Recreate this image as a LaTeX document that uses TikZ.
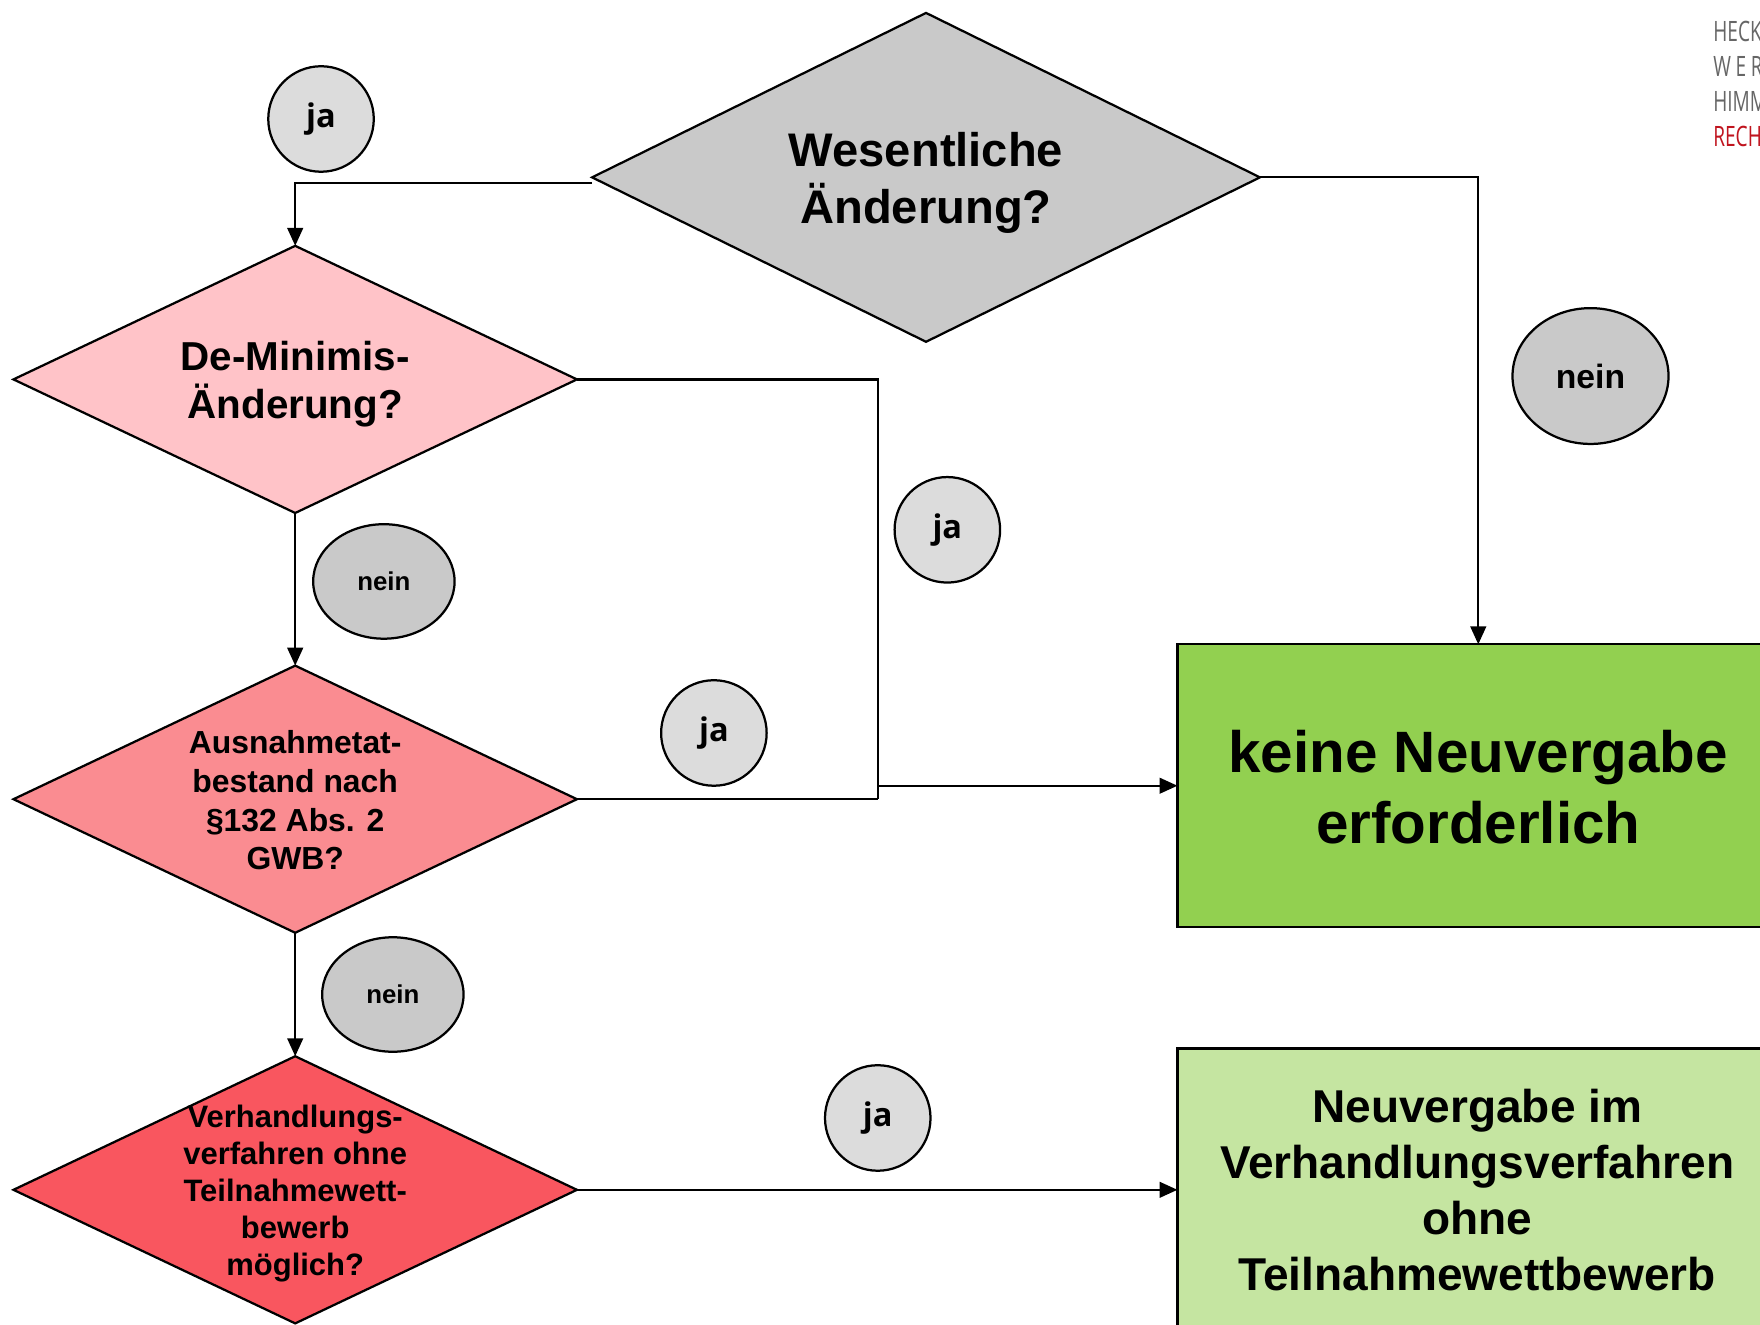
\documentclass[tikz,border=0pt]{standalone}
\usepackage{fontspec}
\setmainfont{Liberation Sans}
\newfontfamily\jafont{Open Sans}
\newfontfamily\logofont[FakeStretch=0.68]{Open Sans}
\usetikzlibrary{shapes.geometric,arrows.meta}
\definecolor{dgray}{HTML}{C9C9C9}
\definecolor{lgray}{HTML}{DCDCDC}
\definecolor{pinkA}{HTML}{FFC3C8}
\definecolor{pinkB}{HTML}{FA8C91}
\definecolor{pinkC}{HTML}{F9565F}
\definecolor{greenA}{HTML}{92D050}
\definecolor{greenB}{HTML}{C5E5A1}
\definecolor{logogray}{HTML}{666666}
\definecolor{logored}{HTML}{C0141E}
\tikzset{
  dia/.style={diamond, draw=black, line width=1pt, inner sep=0pt, outer sep=0pt,
    minimum width=502*0.5pt, minimum height=238*0.5pt, aspect=2.1},
  box/.style={rectangle, draw=black, line width=1pt, inner sep=0pt, outer sep=0pt,
    minimum width=536*0.5pt, minimum height=252*0.5pt},
  jacirc/.style={ellipse, draw=black, line width=1pt, fill=lgray, inner sep=0pt,
    minimum width=94*0.5pt, minimum height=94*0.5pt, font=\jafont\bfseries\fontsize{14.5}{16}\selectfont},
  neincirc/.style={ellipse, draw=black, line width=1pt, fill=dgray, inner sep=0pt,
    font=\bfseries\fontsize{11.5}{13}\selectfont},
  txt/.style={align=center, inner sep=0pt, font=\bfseries},
  arr/.style={line width=1pt, -{Triangle[length=8pt,width=7pt]}},
  ln/.style={line width=1pt},
  logo/.style={anchor=west, inner sep=0pt, font=\logofont\fontsize{12.5}{14}\selectfont}
}
\begin{document}
\begin{tikzpicture}[x=0.5pt,y=-0.5pt]
\useasboundingbox (0,0) rectangle (1568,1180);
\clip (0,0) rectangle (1568,1180);
\fill[white] (0,0) rectangle (1568,1180);

% decision diamonds
\node[dia, fill=dgray, minimum width=595*0.5pt, minimum height=293*0.5pt] (wes) at (825,158) {};
\node[txt, font=\bfseries\fontsize{21}{25}\selectfont] at (825,163) {Wesentliche\\Änderung?};

\node[dia, fill=pinkA] (dem) at (263,338) {};
\node[txt, font=\bfseries\fontsize{18}{21.5}\selectfont] at (263,342) {De-Minimis-\\Änderung?};

\node[dia, fill=pinkB] (aus) at (263,712) {};
\node[txt, font=\bfseries\fontsize{14.2}{17.2}\selectfont] at (263,713) {Ausnahmetat-\\bestand nach\\§132 Abs. 2\\GWB?};

\node[dia, fill=pinkC] (ver) at (263,1060) {};
\node[txt, font=\bfseries\fontsize{13.8}{16.5}\selectfont] at (263,1063) {Verhandlungs-\\verfahren ohne\\Teilnahmewett-\\bewerb\\möglich?};

% result boxes
\node[box, fill=greenA] (keine) at (1317,700) {};
\node[txt, font=\bfseries\fontsize{26}{31.5}\selectfont] at (1317,701) {keine Neuvergabe\\erforderlich};

\node[box, fill=greenB] (neu) at (1317,1060) {};
\node[txt, font=\bfseries\fontsize{20.5}{25}\selectfont] at (1316,1060) {Neuvergabe im\\Verhandlungsverfahren\\ohne\\Teilnahmewettbewerb};

% answer circles
\node[jacirc] (ja1) at (286,106) {ja};
\node[jacirc] (ja2) at (844,472) {ja};
\node[jacirc] (ja3) at (636,653) {ja};
\node[jacirc] (ja4) at (782,996) {ja};
\node[neincirc, minimum width=139*0.5pt, minimum height=121*0.5pt, font=\bfseries\fontsize{15}{17}\selectfont] (nein1) at (1417,335) {nein};
\node[neincirc, minimum width=126*0.5pt, minimum height=102*0.5pt] (nein2) at (342,518) {nein};
\node[neincirc, minimum width=126*0.5pt, minimum height=102*0.5pt] (nein3) at (350,886) {nein};

% connectors
\draw[arr] ([yshift=-2.5pt]wes.west) -| (dem.north);
\draw[arr] (wes.east) -| (keine.north);
\coordinate (j1) at (782,712);
\coordinate (j2) at (782,700);
\draw[ln] (dem.east) -| (j1);
\draw[ln] (aus.east) -- (j1);
\draw[arr] (j2) -- (keine.west);
\draw[arr] (dem.south) -- (aus.north);
\draw[arr] (aus.south) -- (ver.north);
\draw[arr] (ver.east) -- (neu.west);

% logo (cut off at the right edge, as in the reference)
\node[logo, text=logogray] (l1) at (1526,28) {HECKER};
\node[logo, text=logogray] (l2) at (1526,59) {W\,E\,R\,N};
\node[logo, text=logogray] (l3) at (1526,90) {HIMM};
\node[logo, text=logored] (l4) at (1526,122) {RECHT};
\end{tikzpicture}
\end{document}
